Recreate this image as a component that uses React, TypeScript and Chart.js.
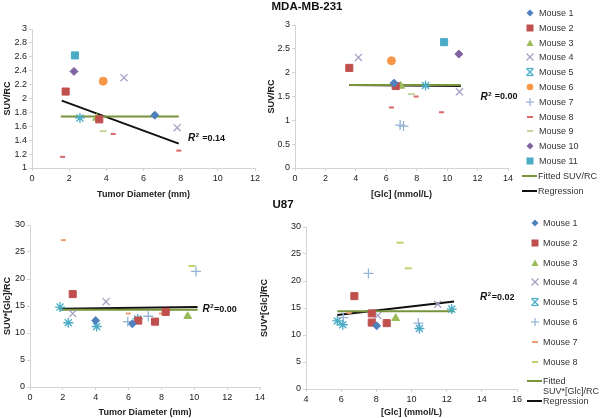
import React, { useEffect, useRef } from "react";
import { Chart, registerables } from "chart.js";
Chart.register(...registerables);

const FONT = "'Liberation Sans', Arial, Helvetica, sans-serif";

// ---------- MDA-MB-231 : SUV/RC vs Tumor Diameter ----------
const mdaDiamMouse = [1, 2, 2, 3, 4, 4, 5, 6, 8, 8, 8, 9, 10, 11];
const mdaDiamX = [6.61, 1.81, 3.62, 3.48, 4.95, 7.81, 2.58, 3.83, 4.37, 1.65, 7.9, 3.83, 2.26, 2.31];
const mdaDiamY = [1.76, 2.1, 1.7, 1.72, 2.3, 1.58, 1.72, 2.25, 1.49, 1.16, 1.25, 1.53, 2.39, 2.62];
const mdaDiamFitX = [1.55, 7.9];
const mdaDiamFitY = [1.74, 1.74];
const mdaDiamRegX = [1.6, 7.9];
const mdaDiamRegY = [1.97, 1.35];

// ---------- MDA-MB-231 : SUV/RC vs [Glc] ----------
const mdaGlcMouse = [1, 2, 2, 3, 4, 4, 5, 6, 7, 7, 8, 8, 8, 9, 10, 11];
const mdaGlcX = [6.51, 3.57, 6.62, 6.95, 4.17, 10.81, 8.58, 6.34, 6.91, 7.13, 7.96, 6.34, 9.63, 7.65, 10.77, 9.8];
const mdaGlcY = [1.78, 2.1, 1.72, 1.72, 2.32, 1.6, 1.73, 2.25, 0.9, 0.88, 1.5, 1.27, 1.17, 1.55, 2.39, 2.64];
const mdaGlcFitX = [3.57, 10.9];
const mdaGlcFitY = [1.74, 1.74];
const mdaGlcRegX = [3.57, 10.9];
const mdaGlcRegY = [1.74, 1.72];

// ---------- U87 : SUV*[Glc]/RC vs Tumor Diameter ----------
const u87DiamMouse = [1, 1, 2, 2, 2, 2, 3, 4, 4, 5, 5, 5, 5, 6, 6, 6, 7, 7, 7, 8];
const u87DiamX = [4.0, 6.23, 2.6, 6.59, 7.61, 8.26, 9.6, 2.6, 4.63, 1.83, 2.33, 4.06, 6.55, 5.95, 7.2, 10.1, 2.03, 5.98, 8.0, 9.86];
const u87DiamY = [12.3, 11.7, 17.2, 12.3, 12.1, 13.9, 13.1, 13.6, 15.8, 14.8, 11.9, 11.2, 12.6, 12.1, 13.1, 21.4, 27.2, 13.6, 13.6, 22.4];
const u87DiamFitX = [1.8, 10.2];
const u87DiamFitY = [14.3, 14.3];
const u87DiamRegX = [1.8, 10.2];
const u87DiamRegY = [14.5, 14.8];

// ---------- U87 : SUV*[Glc]/RC vs [Glc] ----------
const u87GlcMouse = [1, 2, 2, 2, 2, 3, 4, 4, 5, 5, 5, 5, 6, 6, 6, 7, 8, 8];
const u87GlcX = [8.02, 6.75, 7.74, 7.74, 8.59, 9.1, 11.49, 8.08, 5.78, 6.09, 10.45, 12.29, 7.55, 10.39, 6.12, 6.45, 9.35, 9.82];
const u87GlcY = [11.7, 17.2, 14.0, 12.3, 12.2, 13.1, 15.7, 13.6, 12.6, 11.9, 11.2, 14.8, 21.4, 12.2, 13.2, 14.1, 27.1, 22.35];
const u87GlcFitX = [5.78, 12.42];
const u87GlcFitY = [14.4, 14.4];
const u87GlcRegX = [5.78, 12.42];
const u87GlcRegY = [13.7, 16.2];

const mdaLabels = ["Mouse 1", "Mouse 2", "Mouse 3", "Mouse 4", "Mouse 5", "Mouse 6", "Mouse 7", "Mouse 8", "Mouse 9", "Mouse 10", "Mouse 11"];
const u87Labels = ["Mouse 1", "Mouse 2", "Mouse 3", "Mouse 4", "Mouse 5", "Mouse 6", "Mouse 7", "Mouse 8"];

type Sty = { style: string; color: string; r: number };
const mdaStyles: Sty[] = [
  { style: "rectRot", color: "#4F81BD", r: 4 },
  { style: "rect", color: "#C0504D", r: 5 },
  { style: "triangle", color: "#9BBB59", r: 4.5 },
  { style: "crossRot", color: "#A6A1C4", r: 5 },
  { style: "star", color: "#4BACC6", r: 5 },
  { style: "circle", color: "#F79646", r: 4 },
  { style: "cross", color: "#95B3D7", r: 5 },
  { style: "line", color: "#D9666A", r: 2.5 },
  { style: "line", color: "#C3D69B", r: 3.5 },
  { style: "rectRot", color: "#8064A2", r: 4 },
  { style: "rect", color: "#4BACC6", r: 5 },
];
const u87Styles: Sty[] = [
  { style: "rectRot", color: "#4F81BD", r: 4 },
  { style: "rect", color: "#C0504D", r: 5 },
  { style: "triangle", color: "#9BBB59", r: 4.5 },
  { style: "crossRot", color: "#A6A1C4", r: 5 },
  { style: "star", color: "#4BACC6", r: 5 },
  { style: "cross", color: "#95B3D7", r: 5 },
  { style: "line", color: "#F0A070", r: 2.5 },
  { style: "line", color: "#BCD36F", r: 3.5 },
];
const FIT_COLOR = "#77933C";
const REG_COLOR = "#111111";

const fmt = (v: any) => String(Math.round(Number(v) * 100) / 100);

const r2Plugin = {
  id: "r2label",
  afterDatasetsDraw(chart: any, _a: any, opts: any) {
    const { ctx, scales } = chart;
    const px = scales.x.getPixelForValue(opts.x);
    const py = scales.y.getPixelForValue(opts.y);
    ctx.save();
    ctx.fillStyle = "#111";
    ctx.textBaseline = "middle";
    ctx.textAlign = "left";
    ctx.font = `italic bold 10px ${FONT}`;
    ctx.fillText("R", px, py);
    let w = ctx.measureText("R").width;
    ctx.font = `bold 6px ${FONT}`;
    ctx.fillText("2", px + w + 0.5, py - 3);
    w += ctx.measureText("2").width + 1;
    ctx.font = `bold 9px ${FONT}`;
    ctx.fillText(opts.text, px + w, py);
    ctx.restore();
  },
};

type PanelSpec = {
  left: number; top: number; width: number; height: number;
  mouse: number[]; xs: number[]; ys: number[]; labels: string[]; styles: Sty[];
  fitX: number[]; fitY: number[]; regX: number[]; regY: number[];
  r2: { x: number; y: number; text: string };
  xMin: number; xMax: number; xStep: number; yMin: number; yMax: number; yStep: number;
  xTitle: string; yTitle: string; yWidth: number; xHeight: number;
  pad: { top: number; right: number }; yTitlePad: number;
};

function Panel({ spec }: { spec: PanelSpec }) {
  const ref = useRef<HTMLCanvasElement>(null);
  useEffect(() => {
    const s = spec;
    const datasets: any[] = s.labels.map((label, i) => {
      const st = s.styles[i];
      const data = s.mouse
        .map((m, k) => ({ m, x: s.xs[k], y: s.ys[k] }))
        .filter((p) => p.m === i + 1)
        .map((p) => ({ x: p.x, y: p.y }));
      const stroke = ["crossRot", "star", "cross", "line"].includes(st.style);
      return {
        type: "scatter",
        label,
        data,
        pointStyle: st.style,
        pointRadius: st.r,
        pointBackgroundColor: st.color,
        pointBorderColor: st.color,
        pointBorderWidth: stroke ? (st.style === "line" ? 2 : 1.3) : 1,
        order: 0,
      };
    });
    datasets.push({
      type: "line",
      label: "Fitted",
      data: s.fitX.map((x, k) => ({ x, y: s.fitY[k] })),
      borderColor: FIT_COLOR,
      borderWidth: 2,
      pointRadius: 0,
      fill: false,
      order: 1,
    });
    datasets.push({
      type: "line",
      label: "Regression",
      data: s.regX.map((x, k) => ({ x, y: s.regY[k] })),
      borderColor: REG_COLOR,
      borderWidth: 2,
      pointRadius: 0,
      fill: false,
      order: 2,
    });
    const tickFont = { family: FONT, size: 9 };
    const titleFont = { family: FONT, size: 9, weight: "bold" as const };
    const chart = new Chart(ref.current!, {
      type: "scatter",
      data: { datasets },
      plugins: [r2Plugin as any],
      options: {
        animation: false,
        responsive: false,
        events: [],
        layout: { padding: { top: s.pad.top, right: s.pad.right, left: 0, bottom: 0 } },
        plugins: {
          legend: { display: false },
          tooltip: { enabled: false },
          r2label: s.r2,
        } as any,
        scales: {
          x: {
            type: "linear",
            min: s.xMin,
            max: s.xMax,
            ticks: { stepSize: s.xStep, font: tickFont, color: "#222", padding: 2, maxRotation: 0, autoSkip: false, callback: fmt },
            grid: { display: true, drawOnChartArea: false, drawTicks: true, tickLength: 3, color: "#d4d4d4" },
            border: { display: true, color: "#d4d4d4" },
            title: { display: true, text: s.xTitle, font: titleFont, color: "#222", padding: { top: 0, bottom: 0 } },
            afterFit: (sc: any) => { sc.height = s.xHeight; },
          },
          y: {
            type: "linear",
            min: s.yMin,
            max: s.yMax,
            ticks: { stepSize: s.yStep, font: tickFont, color: "#222", padding: 2, autoSkip: false, callback: fmt },
            grid: { display: true, drawOnChartArea: false, drawTicks: true, tickLength: 3, color: "#d4d4d4" },
            border: { display: true, color: "#d4d4d4" },
            title: { display: true, text: s.yTitle, font: titleFont, color: "#222", padding: { top: s.yTitlePad, bottom: 0 } },
            afterFit: (sc: any) => { sc.width = s.yWidth; },
          },
        },
      } as any,
    });
    return () => chart.destroy();
  }, [spec]);
  return (
    <canvas
      ref={ref}
      width={spec.width}
      height={spec.height}
      style={{ position: "absolute", left: spec.left, top: spec.top, width: spec.width, height: spec.height }}
    />
  );
}

const panels: PanelSpec[] = [
  {
    left: 0, top: 20, width: 265, height: 180,
    mouse: mdaDiamMouse, xs: mdaDiamX, ys: mdaDiamY, labels: mdaLabels, styles: mdaStyles,
    fitX: mdaDiamFitX, fitY: mdaDiamFitY, regX: mdaDiamRegX, regY: mdaDiamRegY,
    r2: { x: 8.4, y: 1.43, text: " =0.14" },
    xMin: 0, xMax: 12, xStep: 2, yMin: 1, yMax: 3, yStep: 0.2,
    xTitle: "Tumor Diameter (mm)", yTitle: "SUV/RC", yWidth: 32, xHeight: 32,
    pad: { top: 9, right: 10 }, yTitlePad: 2,
  },
  {
    left: 262, top: 15, width: 258, height: 185,
    mouse: mdaGlcMouse, xs: mdaGlcX, ys: mdaGlcY, labels: mdaLabels, styles: mdaStyles,
    fitX: mdaGlcFitX, fitY: mdaGlcFitY, regX: mdaGlcRegX, regY: mdaGlcRegY,
    r2: { x: 12.2, y: 1.49, text: " =0.00" },
    xMin: 0, xMax: 14, xStep: 2, yMin: 0, yMax: 3, yStep: 0.5,
    xTitle: "[Glc] (mmol/L)", yTitle: "SUV/RC", yWidth: 33, xHeight: 32,
    pad: { top: 10, right: 12 }, yTitlePad: 4,
  },
  {
    left: 0, top: 215, width: 270, height: 203,
    mouse: u87DiamMouse, xs: u87DiamX, ys: u87DiamY, labels: u87Labels, styles: u87Styles,
    fitX: u87DiamFitX, fitY: u87DiamFitY, regX: u87DiamRegX, regY: u87DiamRegY,
    r2: { x: 10.5, y: 14.4, text: "=0.00" },
    xMin: 0, xMax: 14, xStep: 2, yMin: 0, yMax: 30, yStep: 5,
    xTitle: "Tumor Diameter (mm)", yTitle: "SUV*[Glc]/RC", yWidth: 30, xHeight: 31,
    pad: { top: 10, right: 10 }, yTitlePad: 2,
  },
  {
    left: 255, top: 217, width: 272, height: 201,
    mouse: u87GlcMouse, xs: u87GlcX, ys: u87GlcY, labels: u87Labels, styles: u87Styles,
    fitX: u87GlcFitX, fitY: u87GlcFitY, regX: u87GlcRegX, regY: u87GlcRegY,
    r2: { x: 13.9, y: 17.0, text: "=0.02" },
    xMin: 4, xMax: 16, xStep: 2, yMin: 0, yMax: 30, yStep: 5,
    xTitle: "[Glc] (mmol/L)", yTitle: "SUV*[Glc]/RC", yWidth: 51, xHeight: 29,
    pad: { top: 10, right: 10 }, yTitlePad: 4,
  },
];

function Marker({ style, color }: { style: string; color: string }) {
  const c = 5;
  let el: any = null;
  switch (style) {
    case "rectRot":
      el = <polygon points={`${c},${c - 3.5} ${c + 3.5},${c} ${c},${c + 3.5} ${c - 3.5},${c}`} fill={color} />;
      break;
    case "rect":
      el = <rect x={c - 3.5} y={c - 3.5} width={7} height={7} fill={color} />;
      break;
    case "triangle":
      el = <polygon points={`${c},${c - 3.5} ${c + 3.5},${c + 3} ${c - 3.5},${c + 3}`} fill={color} />;
      break;
    case "circle":
      el = <circle cx={c} cy={c} r={3.3} fill={color} />;
      break;
    case "crossRot":
      el = (
        <g stroke={color} strokeWidth={1.2}>
          <line x1={c - 3.5} y1={c - 3.5} x2={c + 3.5} y2={c + 3.5} />
          <line x1={c - 3.5} y1={c + 3.5} x2={c + 3.5} y2={c - 3.5} />
        </g>
      );
      break;
    case "star":
      el = (
        <g stroke={color} strokeWidth={1.2}>
          <line x1={c - 3.5} y1={c - 3.5} x2={c + 3.5} y2={c + 3.5} />
          <line x1={c - 3.5} y1={c + 3.5} x2={c + 3.5} y2={c - 3.5} />
          <line x1={c - 3} y1={c - 3.5} x2={c + 3} y2={c - 3.5} />
          <line x1={c - 3} y1={c + 3.5} x2={c + 3} y2={c + 3.5} />
        </g>
      );
      break;
    case "cross":
      el = (
        <g stroke={color} strokeWidth={1.2}>
          <line x1={c - 4} y1={c} x2={c + 4} y2={c} />
          <line x1={c} y1={c - 4} x2={c} y2={c + 4} />
        </g>
      );
      break;
    case "line":
      el = <line x1={c - 3} y1={c} x2={c + 3} y2={c} stroke={color} strokeWidth={2} />;
      break;
  }
  return (
    <svg width={10} height={10} style={{ display: "block" }}>
      {el}
    </svg>
  );
}

const legendText: React.CSSProperties = {
  position: "absolute",
  fontFamily: FONT,
  fontSize: 9,
  lineHeight: "12px",
  color: "#333",
  whiteSpace: "nowrap",
};

function Legend({ labels, styles, y0, dy, mx, tx, lineX, fitLines, fitY, regY }: any) {
  return (
    <>
      {labels.map((lab: string, i: number) => {
        const cy = y0 + i * dy;
        return (
          <React.Fragment key={lab}>
            <div style={{ position: "absolute", left: mx - 5, top: cy - 5 }}>
              <Marker style={styles[i].style} color={styles[i].color} />
            </div>
            <div style={{ ...legendText, left: tx, top: cy - 6 }}>{lab}</div>
          </React.Fragment>
        );
      })}
      <div style={{ position: "absolute", left: lineX, top: fitY - 1, width: 15, height: 2, background: FIT_COLOR }} />
      {fitLines.map((t: string, k: number) => (
        <div key={t} style={{ ...legendText, left: lineX + 16, top: fitY - 6 + k * 10 }}>{t}</div>
      ))}
      <div style={{ position: "absolute", left: lineX, top: regY - 1, width: 15, height: 2, background: REG_COLOR }} />
      <div style={{ ...legendText, left: lineX + 16, top: regY - 6 }}>Regression</div>
    </>
  );
}

const titleStyle: React.CSSProperties = {
  position: "absolute",
  fontFamily: FONT,
  fontWeight: "bold",
  fontSize: 11.5,
  color: "#111",
  whiteSpace: "nowrap",
  transform: "translate(-50%, -50%)",
};

export default function App() {
  useEffect(() => {
    document.body.style.margin = "0";
  }, []);
  return (
    <div style={{ position: "absolute", left: 0, top: 0, width: 600, height: 418, background: "#fff", overflow: "hidden" }}>
      {panels.map((p, i) => (
        <Panel key={i} spec={p} />
      ))}
      <div style={{ ...titleStyle, left: 307, top: 6 }}>MDA-MB-231</div>
      <div style={{ ...titleStyle, left: 283, top: 204 }}>U87</div>
      <Legend
        labels={mdaLabels}
        styles={mdaStyles}
        y0={13}
        dy={14.8}
        mx={530}
        tx={539}
        lineX={522}
        fitLines={["Fitted SUV/RC"]}
        fitY={176}
        regY={191}
      />
      <Legend
        labels={u87Labels}
        styles={u87Styles}
        y0={223}
        dy={19.8}
        mx={535}
        tx={543}
        lineX={527}
        fitLines={["Fitted", "SUV*[Glc]/RC"]}
        fitY={381}
        regY={401}
      />
    </div>
  );
}
